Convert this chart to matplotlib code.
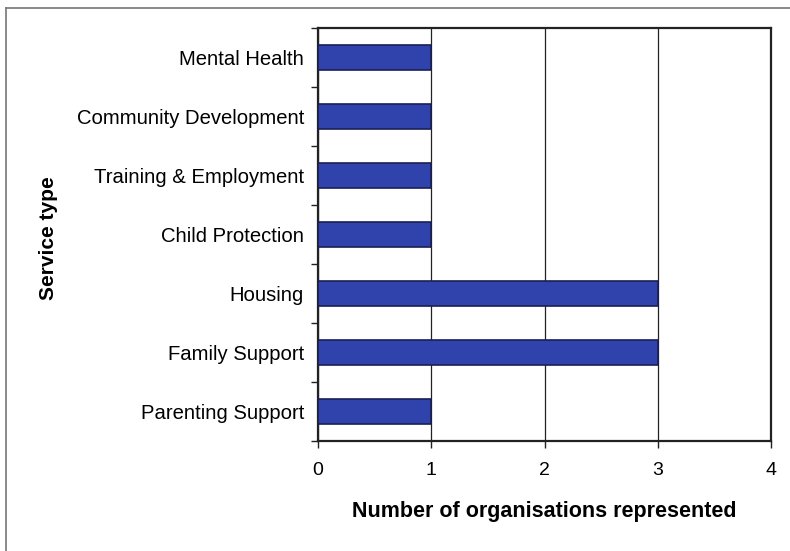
import matplotlib
matplotlib.use('Agg')
import matplotlib.pyplot as plt
from matplotlib.lines import Line2D

# Service types, bottom to top
services = ["Parenting Support", "Family Support", "Housing", "Child Protection",
            "Training & Employment", "Community Development", "Mental Health"]
counts = [1, 3, 3, 1, 1, 1, 1]
x_ticks = [0, 1, 2, 3, 4]

plt.rcParams['font.family'] = ['Liberation Sans', 'DejaVu Sans']

fig = plt.figure(figsize=(7.9, 5.51), dpi=100)
ax = fig.add_axes([318 / 790, 1 - 441 / 551, (771 - 318) / 790, (441 - 28) / 551])

ypos = list(range(len(services)))
ax.barh(ypos, counts, height=0.42, color='#3043ad', edgecolor='#1b1f55', linewidth=1.2, zorder=3)

ax.set_xlim(0, 4)
ax.set_ylim(-0.5, len(services) - 0.5)
ax.set_xticks(x_ticks)
ax.set_xticklabels([str(t) for t in x_ticks], fontsize=14)
ax.xaxis.grid(True, color='#222222', linewidth=0.9, zorder=0)
ax.tick_params(axis='x', length=5, width=1, color='#222222', pad=10)

# category labels sit between the boundary ticks
ax.set_yticks([y - 0.5 for y in ypos] + [len(services) - 0.5])
ax.set_yticklabels([])
ax.set_yticks(ypos, minor=True)
ax.set_yticklabels(services, minor=True, fontsize=14.6)
ax.tick_params(axis='y', which='minor', length=0, pad=10)
ax.tick_params(axis='y', which='major', length=5, width=1, color='#222222')

for s in ax.spines.values():
    s.set_linewidth(1.6)
    s.set_color('#222222')

ax.set_xlabel("Number of organisations represented", fontsize=15.5, fontweight='bold', labelpad=16)
fig.text(48 / 790, 1 - 238 / 551, "Service type", rotation=90, fontsize=15,
         fontweight='bold', ha='center', va='center')

# outer border of the chart area
fig.add_artist(Line2D([6 / 790, 1], [1 - 8 / 551, 1 - 8 / 551], color='#777777', linewidth=1.2))
fig.add_artist(Line2D([6 / 790, 6 / 790], [0, 1 - 8 / 551], color='#777777', linewidth=1.2))

fig.savefig('out.png', dpi=100, facecolor='white')
